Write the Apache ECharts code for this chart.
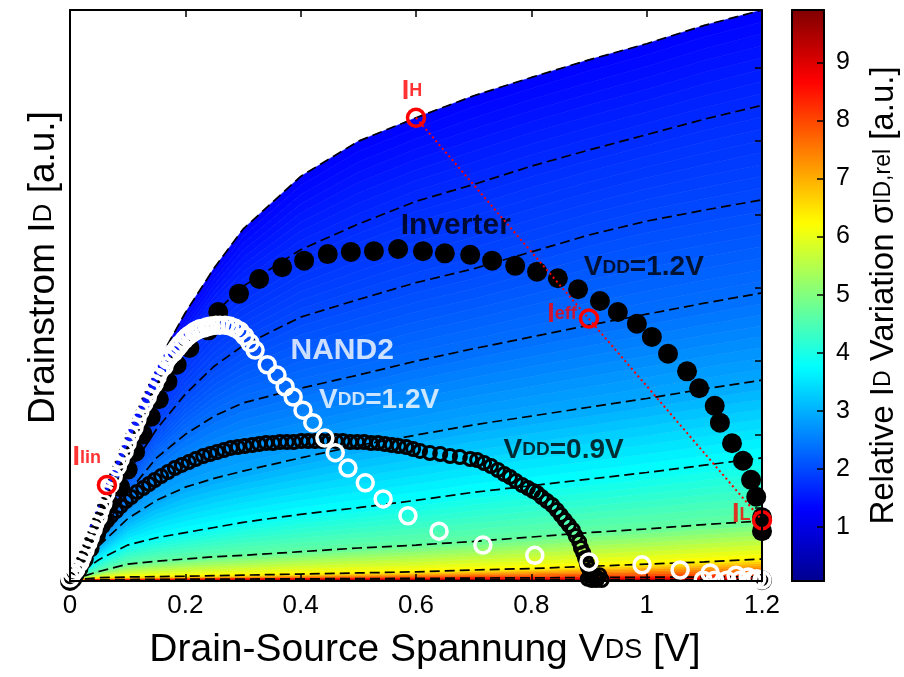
<!DOCTYPE html>
<html><head><meta charset="utf-8">
<script src="https://cdn.jsdelivr.net/npm/echarts@6/dist/echarts.min.js"></script>
<style>html,body{margin:0;padding:0;background:#fff}#c{width:904px;height:677px}</style>
</head><body><div id="c"></div>
<script>
// ---- data ----
const vdsGrid = [0,0.025,0.05,0.1,0.15,0.2,0.25,0.3,0.4,0.5,0.6,0.7,0.8,0.9,1.0,1.1,1.2];
const idVgs12 = [0,0.55,1.07,2.05,2.95,3.66,4.27,4.8,5.52,6.0,6.32,6.62,6.87,7.11,7.33,7.58,7.79];
const idVgs11 = [0,0.48,0.93,1.78,2.55,3.15,3.65,4.02,4.52,4.87,5.18,5.41,5.66,5.88,6.09,6.30,6.49];
const idVgs10 = [0,0.40,0.78,1.47,2.07,2.55,2.93,3.21,3.6,3.84,4.07,4.26,4.49,4.72,4.91,5.06,5.2];
const idVgs09 = [0,0.32,0.63,1.2,1.68,2.0,2.25,2.43,2.63,2.81,3.0,3.17,3.33,3.49,3.64,3.79,3.93];
const idVgs08 = [0,0.24,0.48,0.85,1.1,1.28,1.4,1.5,1.68,1.85,1.99,2.13,2.25,2.37,2.49,2.62,2.74];
const idVgs07 = [0,0.15,0.29,0.49,0.59,0.66,0.73,0.8,0.91,1.0,1.1,1.21,1.3,1.39,1.48,1.58,1.68];
const idVgs06 = [0,0.07,0.13,0.23,0.27,0.30,0.33,0.35,0.40,0.45,0.49,0.54,0.6,0.66,0.71,0.77,0.82];
const idVgs05 = [0,0.03,0.045,0.055,0.06,0.065,0.072,0.08,0.095,0.11,0.125,0.15,0.17,0.2,0.23,0.26,0.30];
const idVgs04 = [0,0.01,0.015,0.02,0.022,0.024,0.026,0.027,0.03,0.033,0.036,0.04,0.043,0.047,0.051,0.055,0.06];
const idVgs03 = [0,0.004,0.006,0.008,0.009,0.01,0.0105,0.011,0.012,0.013,0.014,0.015,0.016,0.017,0.018,0.019,0.02];
// relative variation sigma along each curve (top to bottom) and at the axis
const sigmaPerCurve = [1.3,1.7,2.0,2.35,2.9,3.8,4.7,6.3,8.3,9.4];
const sigmaAtAxis = 9.9;
const sigmaMin = 0.07, sigmaMax = 9.9;
const colorbarTicks = [1,2,3,4,5,6,7,8,9];

const inverterVdd12 = [[1.2,0.01],[1.2,0.68],[1.2,0.87],[1.19,1.15],[1.181,1.38],[1.167,1.64],[1.148,1.88],[1.127,2.16],[1.118,2.39],[1.091,2.63],[1.07,2.86],[1.037,3.10],[1.009,3.33],[0.983,3.51],[0.95,3.67],[0.919,3.82],[0.881,3.98],[0.846,4.13],[0.81,4.22],[0.772,4.30],[0.732,4.37],[0.694,4.45],[0.65,4.47],[0.612,4.50],[0.569,4.53],[0.527,4.50],[0.487,4.49],[0.447,4.46],[0.406,4.37],[0.368,4.28],[0.328,4.12],[0.293,3.92],[0.257,3.67],[0.24,3.42],[0.207,3.18],[0.185,2.95],[0.169,2.72],[0.154,2.48],[0.14,2.24],[0.126,2.0],[0.113,1.76],[0.1,1.52],[0.087,1.28],[0.068,1.05],[0.056,0.83],[0.045,0.63],[0.034,0.45],[0.024,0.3],[0.015,0.18],[0.008,0.09],[0.004,0.03],[0,0]];

const nand2Vdd12 = [[0,0.04],[0.005,0.11],[0.01,0.16],[0.017,0.25],[0.021,0.33],[0.026,0.42],[0.031,0.52],[0.035,0.6],[0.04,0.7],[0.043,0.78],[0.049,0.87],[0.052,0.97],[0.057,1.06],[0.062,1.19],[0.069,1.31],[0.075,1.43],[0.082,1.56],[0.087,1.66],[0.094,1.77],[0.099,1.88],[0.104,1.99],[0.111,2.09],[0.116,2.2],[0.121,2.31],[0.128,2.42],[0.134,2.51],[0.139,2.61],[0.146,2.69],[0.151,2.78],[0.156,2.87],[0.163,2.93],[0.168,3.02],[0.173,3.07],[0.18,3.12],[0.186,3.18],[0.191,3.23],[0.198,3.29],[0.203,3.33],[0.208,3.36],[0.215,3.4],[0.22,3.42],[0.225,3.44],[0.232,3.45],[0.238,3.47],[0.244,3.48],[0.253,3.49],[0.26,3.49],[0.269,3.49],[0.277,3.48],[0.286,3.45],[0.295,3.41],[0.303,3.34],[0.312,3.25],[0.321,3.15],[0.342,2.95],[0.359,2.81],[0.373,2.65],[0.387,2.51],[0.404,2.33],[0.421,2.16],[0.442,1.95],[0.46,1.75],[0.482,1.54],[0.512,1.34],[0.543,1.12],[0.586,0.89],[0.64,0.68],[0.716,0.49],[0.806,0.35],[0.9,0.26],[0.992,0.22],[1.058,0.15],[1.11,0.11],[1.155,0.08],[1.176,0.055],[1.191,0.03],[1.2,0.014],[1.098,0.01],[1.118,0.01],[1.139,0.01],[1.162,0.01],[1.183,0.01]];

const inverterVdd09 = [[0,0.014],[0.005,0.082],[0.01,0.164],[0.016,0.246],[0.021,0.327],[0.026,0.409],[0.031,0.477],[0.036,0.546],[0.043,0.614],[0.05,0.682],[0.057,0.75],[0.064,0.819],[0.071,0.887],[0.08,0.955],[0.088,1.023],[0.097,1.091],[0.106,1.146],[0.116,1.214],[0.127,1.269],[0.137,1.323],[0.147,1.378],[0.158,1.432],[0.17,1.487],[0.182,1.542],[0.194,1.583],[0.206,1.623],[0.218,1.664],[0.231,1.705],[0.243,1.733],[0.255,1.76],[0.267,1.787],[0.279,1.815],[0.291,1.828],[0.303,1.842],[0.316,1.855],[0.328,1.869],[0.34,1.883],[0.352,1.883],[0.364,1.896],[0.376,1.896],[0.388,1.896],[0.401,1.91],[0.413,1.91],[0.425,1.91],[0.437,1.91],[0.449,1.91],[0.461,1.91],[0.473,1.91],[0.486,1.896],[0.498,1.896],[0.51,1.896],[0.522,1.883],[0.534,1.883],[0.546,1.869],[0.558,1.855],[0.57,1.842],[0.583,1.828],[0.595,1.801],[0.607,1.774],[0.624,1.746],[0.642,1.733],[0.659,1.705],[0.676,1.692],[0.694,1.664],[0.706,1.651],[0.718,1.61],[0.73,1.569],[0.742,1.514],[0.753,1.46],[0.763,1.419],[0.773,1.364],[0.784,1.31],[0.794,1.269],[0.803,1.228],[0.81,1.201],[0.818,1.146],[0.827,1.091],[0.836,1.037],[0.844,0.969],[0.851,0.9],[0.858,0.832],[0.865,0.764],[0.872,0.696],[0.877,0.614],[0.883,0.532],[0.886,0.45],[0.89,0.382],[0.893,0.314],[0.896,0.246],[0.898,0.191],[0.902,0.123],[0.903,0.068],[0.905,0.014],[0.913,0.014],[0.922,0.014],[0.918,0.08],[0.91,0.07],[0.898,0.03],[0.915,0.04]];

const markerIH = [0.6,6.32], markerIeff = [0.9,3.58], markerIL = [1.2,0.83], markerIlin = [0.064,1.31];

const annotations = [
  {pos:[0.669,4.84], text:'{b|Inverter}', color:'#000'},
  {pos:[0.995,4.28], text:'{m|V}{s|DD}{m|=1.2V}', color:'#000'},
  {pos:[0.472,3.14], text:'{b|NAND2}', color:'#fff'},
  {pos:[0.536,2.47], text:'{m|V}{s|DD}{m|=1.2V}', color:'#fff'},
  {pos:[0.856,1.79], text:'{m|V}{s|DD}{m|=0.9V}', color:'#000'},
  {pos:[0.593,6.68], text:'{r|I}{q|H}', color:'#ff0000'},
  {pos:[0.853,3.64], text:'{r|I}{q|eff}', color:'#ff0000'},
  {pos:[1.164,0.90], text:'{r|I}{q|L}', color:'#ff0000'},
  {pos:[0.029,1.68], text:'{r|I}{q|lin}', color:'#ff0000'}
];

// ---- rendering ----
const FONT = '"Liberation Sans", Arial, sans-serif';
const jetColors = ['#000090','#0000ff','#0080ff','#00ffff','#80ff80','#ffff00','#ff8000','#ff0000','#800000'];
function hexToRgb(h){return [parseInt(h.slice(1,3),16),parseInt(h.slice(3,5),16),parseInt(h.slice(5,7),16)];}
function jet(v){
  let f=(v-sigmaMin)/(sigmaMax-sigmaMin); f=Math.max(0,Math.min(1,f))*(jetColors.length-1);
  const i=Math.min(jetColors.length-2,Math.floor(f)); const t=f-i;
  const a=hexToRgb(jetColors[i]), b=hexToRgb(jetColors[i+1]);
  return 'rgb('+a.map((c,k)=>Math.round(c+(b[k]-c)*t)).join(',')+')';
}
const curves = [idVgs12,idVgs11,idVgs10,idVgs09,idVgs08,idVgs07,idVgs06,idVgs05,idVgs04,idVgs03];
const NSUB = 8;

function renderBand(params, api){
  const k = api.value(2);
  const up = curves[k];
  const lo = k+1 < curves.length ? curves[k+1] : null;
  const sU = sigmaPerCurve[k], sL = k+1 < curves.length ? sigmaPerCurve[k+1] : sigmaAtAxis;
  const children = [];
  for (let j=0;j<NSUB;j++){
    const t0=j/NSUB, t1=(j+1)/NSUB;
    const pts=[];
    for (let i=0;i<vdsGrid.length;i++){ const l = lo?lo[i]:0; pts.push(api.coord([vdsGrid[i], l+(up[i]-l)*t1])); }
    for (let i=vdsGrid.length-1;i>=0;i--){ const l = lo?lo[i]:0; pts.push(api.coord([vdsGrid[i], l+(up[i]-l)*t0])); }
    const col = jet(sL + (sU-sL)*(j+0.5)/NSUB);
    children.push({type:'polygon', shape:{points:pts}, style:{fill:col, stroke:col, lineWidth:0.6}});
  }
  return {type:'group', children};
}

const dashedSeries = curves.map(c => ({
  type:'line', xAxisIndex:0, yAxisIndex:0, data: vdsGrid.map((x,i)=>[x,c[i]]),
  symbol:'none', silent:true, lineStyle:{color:'#000', width:1.7, type:[10,5]}, z:3
}));

const annRich = {
  b:{fontSize:30, fontWeight:'bold', fontFamily:FONT, lineHeight:30},
  m:{fontSize:28, fontWeight:'bold', fontFamily:FONT, lineHeight:28},
  s:{fontSize:19, fontWeight:'bold', fontFamily:FONT, lineHeight:15},
  r:{fontSize:27, fontWeight:'bold', fontFamily:FONT, lineHeight:27},
  q:{fontSize:18, fontWeight:'bold', fontFamily:FONT, lineHeight:9}
};
function richColored(color){ const o={}; for (const k in annRich) o[k]=Object.assign({color}, annRich[k]); return o; }
const AX = '#000';
const line2 = {onZero:false, lineStyle:{color:AX, width:2}};

const option = {
  animation:false,
  textStyle:{fontFamily:FONT},
  grid:[{left:70, top:10, width:692, height:571},{left:792, top:10, width:32, height:571}],
  xAxis:[
    {gridIndex:0, type:'value', min:0, max:1.2, interval:0.2, position:'bottom', z:10,
     axisLine:line2, axisTick:{inside:true, length:7, lineStyle:{color:AX, width:1.5}},
     axisLabel:{fontSize:26, color:'#000', margin:12, fontFamily:FONT}, splitLine:{show:false},
     name:'{m|Drain-Source Spannung V}{s|DS}{m| [V]}', nameLocation:'middle', nameGap:50,
     nameTextStyle:{padding:[0,0,0,18], rich:{
       m:{fontSize:39, lineHeight:39, color:'#000', fontFamily:FONT},
       s:{fontSize:27, lineHeight:20, color:'#000', fontFamily:FONT}}}},
    {gridIndex:0, type:'value', min:0, max:1.2, interval:0.2, position:'top', z:10,
     axisLine:line2, axisTick:{inside:true, length:7, lineStyle:{color:AX, width:1.5}},
     axisLabel:{show:false}, splitLine:{show:false}},
    {gridIndex:1, type:'value', min:0, max:1, position:'bottom', z:10, axisLine:line2,
     axisTick:{show:false}, axisLabel:{show:false}, splitLine:{show:false}},
    {gridIndex:1, type:'value', min:0, max:1, position:'top', z:10, axisLine:line2,
     axisTick:{show:false}, axisLabel:{show:false}, splitLine:{show:false}}
  ],
  yAxis:[
    {gridIndex:0, type:'value', min:0, max:7.79, interval:1, position:'left', z:10,
     axisLine:line2, axisTick:{show:false}, axisLabel:{show:false}, splitLine:{show:false},
     name:'{m|Drainstrom I}{s|D}{m| [a.u.]}', nameLocation:'middle', nameGap:8,
     nameTextStyle:{padding:[0,0,0,56], rich:{
       m:{fontSize:37, lineHeight:37, color:'#000', fontFamily:FONT},
       s:{fontSize:26, lineHeight:21, color:'#000', fontFamily:FONT}}}},
    {gridIndex:0, type:'value', min:0, max:7.79, interval:1, position:'right', z:10,
     axisLine:line2, axisTick:{show:true, inside:true, length:7, lineStyle:{color:AX, width:1.5}},
     axisLabel:{show:false}, splitLine:{show:false}},
    {gridIndex:1, type:'value', min:sigmaMin, max:sigmaMax, position:'left', z:10,
     axisLine:line2, axisTick:{show:false}, axisLabel:{show:false}, splitLine:{show:false}},
    {gridIndex:1, type:'value', min:sigmaMin, max:sigmaMax, position:'right', z:10,
     axisLine:line2,
     axisTick:{show:true, inside:true, length:7, customValues:colorbarTicks, lineStyle:{color:AX, width:1.5}},
     axisLabel:{show:true, customValues:colorbarTicks, fontSize:25, color:'#000', margin:12, fontFamily:FONT},
     splitLine:{show:false},
     name:'{m|Relative I}{s|D}{m| Variation σ}{s|ID,rel}{m| [a.u.]}', nameLocation:'middle', nameRotate:90, nameGap:43,
     nameTextStyle:{rich:{
       m:{fontSize:33, lineHeight:33, color:'#000', fontFamily:FONT},
       s:{fontSize:23, lineHeight:19, color:'#000', fontFamily:FONT}}}}
  ],
  visualMap:{type:'continuous', min:sigmaMin, max:sigmaMax, orient:'vertical', left:792, top:10,
    itemWidth:32, itemHeight:571, padding:0, text:null, calculable:false, showLabel:false, hoverLink:false,
    inRange:{color:jetColors}, seriesIndex:1},
  series:[
    {type:'custom', xAxisIndex:0, yAxisIndex:0, renderItem:renderBand, silent:true, z:1, clip:true,
     data: curves.map((c,k)=>[0.6, 1, k]), encode:{x:0, y:1}},
    {type:'scatter', xAxisIndex:2, yAxisIndex:2, data:[], silent:true},
    ...dashedSeries,
    {type:'scatter', xAxisIndex:0, yAxisIndex:0, data:inverterVdd09, symbol:'circle', symbolSize:13, clip:false, silent:true, z:4,
     itemStyle:{color:'rgba(0,0,0,0)', borderColor:'#000', borderWidth:3, opacity:1}},
    {type:'scatter', xAxisIndex:0, yAxisIndex:0, data:inverterVdd12, symbol:'circle', symbolSize:20, clip:false, silent:true, z:5,
     itemStyle:{color:'#000', opacity:1}},
    {type:'scatter', xAxisIndex:0, yAxisIndex:0, data:nand2Vdd12, symbol:'circle', symbolSize:16, clip:false, silent:true, z:6,
     itemStyle:{color:'rgba(0,0,0,0)', borderColor:'#fff', borderWidth:3.5, opacity:1}},
    {type:'scatter', xAxisIndex:0, yAxisIndex:0, symbolSize:1, clip:false, silent:true, z:7,
     itemStyle:{color:'rgba(0,0,0,0)'},
     data: annotations.map(a=>({value:a.pos, label:{show:true, position:'inside', formatter:a.text, rich:richColored(a.color)}}))},
    {type:'line', xAxisIndex:0, yAxisIndex:0, data:[markerIH, markerIL], symbol:'none', silent:true, z:8,
     lineStyle:{color:'#ff0000', width:2, type:[2,3]}},
    {type:'scatter', xAxisIndex:0, yAxisIndex:0, data:[markerIH, markerIeff, markerIL, markerIlin], symbol:'circle', symbolSize:17, clip:false, silent:true, z:9,
     itemStyle:{color:'rgba(0,0,0,0)', borderColor:'#ff0000', borderWidth:3.5, opacity:1}}
  ]
};
const chart = echarts.init(document.getElementById('c'), null, {renderer:'canvas'});
chart.setOption(option);
</script></body></html>
